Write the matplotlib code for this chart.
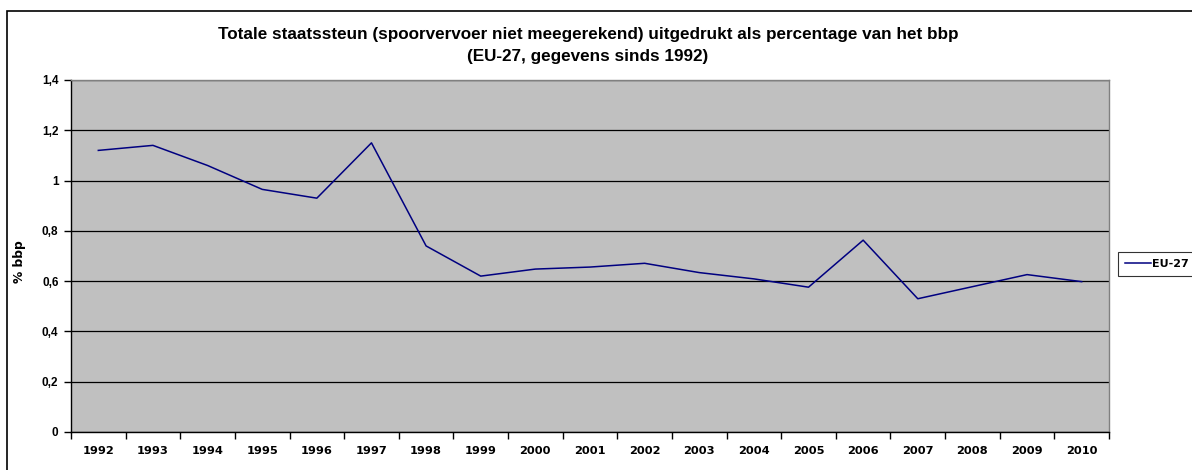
import matplotlib
matplotlib.use("Agg")
import matplotlib.pyplot as plt
from matplotlib.patches import Rectangle
from matplotlib.ticker import FixedLocator, NullFormatter
import numpy as np

years = ["1992", "1993", "1994", "1995", "1996", "1997", "1998", "1999", "2000", "2001",
         "2002", "2003", "2004", "2005", "2006", "2007", "2008", "2009", "2010"]
eu27 = [1.12, 1.14, 1.06, 0.965, 0.93, 1.15, 0.74, 0.62, 0.648, 0.656,
        0.671, 0.634, 0.609, 0.576, 0.763, 0.530, 0.578, 0.626, 0.598]
yticks = [0, 0.2, 0.4, 0.6, 0.8, 1.0, 1.2, 1.4]
ytick_labels = ["0", "0,2", "0,4", "0,6", "0,8", "1", "1,2", "1,4"]

plt.rcParams['font.family'] = ['Liberation Sans', 'DejaVu Sans']
plt.rcParams['font.weight'] = 'bold'
WIDE = ['DejaVu Sans', 'Liberation Sans']

W, H = 1192, 470
fig = plt.figure(figsize=(W / 100, H / 100), dpi=100)
fig.patch.set_facecolor("white")

# outer chart border
fig.patches.append(Rectangle((7 / W, -0.05), 1.2, (H - 11) / H + 0.05, transform=fig.transFigure,
                             fill=False, edgecolor="#000000", linewidth=1.2, zorder=0))

left, right, top, bottom = 71, 1109, 80, 432
ax = fig.add_axes([left / W, 1 - bottom / H, (right - left) / W, (bottom - top) / H])
ax.set_facecolor("#c0c0c0")

x = np.arange(len(years))
ax.plot(x, eu27, color="#000080", linewidth=1.1, label="EU-27", zorder=3)

ax.set_xlim(-0.5, len(years) - 0.5)
ax.set_ylim(0, 1.4)
ax.set_yticks(yticks)
ax.set_yticklabels(ytick_labels)
ax.yaxis.grid(True, color="#000000", linewidth=0.9)
ax.set_axisbelow(True)

ax.xaxis.set_major_locator(FixedLocator(np.arange(-0.5, len(years), 1.0)))
ax.xaxis.set_major_formatter(NullFormatter())
ax.xaxis.set_minor_locator(FixedLocator(x))
ax.set_xticklabels(years, minor=True)
ax.tick_params(axis="x", which="minor", length=0, pad=10, labelsize=8.2)
ax.tick_params(axis="x", which="major", length=5, width=1, color="#000000", direction="out")
ax.tick_params(axis="y", length=5, width=1, labelsize=8.5, pad=4)
for lab in ax.get_xticklabels(minor=True):
    lab.set_family(WIDE)
    lab.set_fontweight("bold")
for lab in ax.get_yticklabels():
    lab.set_fontweight("bold")

for s in ["left", "bottom"]:
    ax.spines[s].set_color("#000000")
    ax.spines[s].set_linewidth(1.0)
for s in ["top", "right"]:
    ax.spines[s].set_color("#808080")
    ax.spines[s].set_linewidth(1.0)

ax.set_ylabel("% bbp", fontsize=8.8, fontweight="bold", family=WIDE)
ax.yaxis.set_label_coords((26 - left) / (right - left), (bottom - 262) / (bottom - top))

fig.text(588 / W, 1 - 34 / H, "Totale staatssteun (spoorvervoer niet meegerekend) uitgedrukt als percentage van het bbp",
         ha="center", va="center", fontsize=12.3, fontweight="bold")
fig.text(588 / W, 1 - 57 / H, "(EU-27, gegevens sinds 1992)",
         ha="center", va="center", fontsize=12.3, fontweight="bold")

leg = fig.legend(loc="upper left", bbox_to_anchor=(1118 / W, 1 - 252 / H), frameon=True,
                 fancybox=False, prop={"size": 8.0, "weight": "bold", "family": WIDE},
                 handlelength=2.3, handletextpad=0.1, borderpad=0.65, borderaxespad=0)
leg.get_frame().set_edgecolor("#000000")
leg.get_frame().set_linewidth(0.8)

fig.savefig("out.png", dpi=100)
